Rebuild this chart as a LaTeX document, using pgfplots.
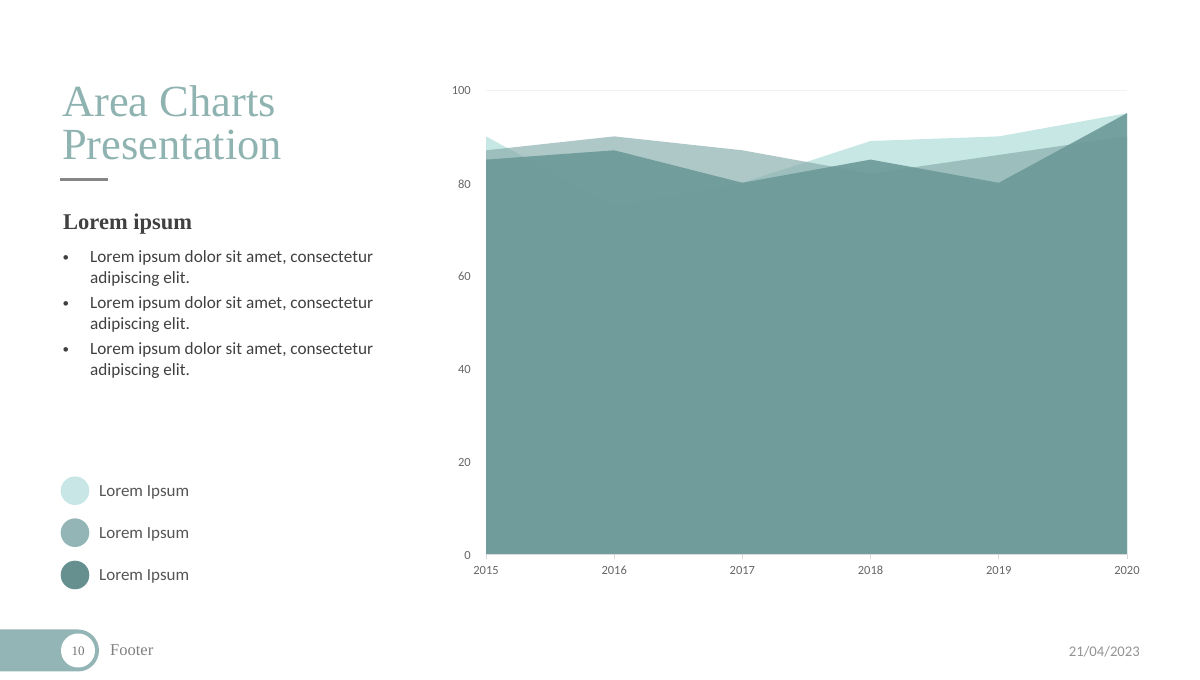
\documentclass[border=0pt]{standalone}
\usepackage{pgfplots}
\pgfplotsset{compat=1.18}
\usepackage{fontspec}
\setmainfont{Carlito}
\newfontfamily\serif{Liberation Serif}
\definecolor{lightc}{HTML}{C6E7E4}
\definecolor{medc}{HTML}{8BAFAF}
\definecolor{darkc}{HTML}{6E9A9A}
\definecolor{leg1}{HTML}{C8E6E6}
\definecolor{leg2}{HTML}{93B5B5}
\definecolor{leg3}{HTML}{65908F}
\definecolor{titlec}{HTML}{8FB3B0}
\definecolor{txt}{HTML}{404040}
\definecolor{legtxt}{HTML}{555555}
\definecolor{tickc}{HTML}{666666}
\definecolor{footc}{HTML}{93B5B5}
\begin{document}
\begin{tikzpicture}[x=1bp,y=1bp]
\path (0,0) rectangle (1200,680);
% Title
\node[anchor=base west, inner sep=0, text=titlec, font=\serif\fontsize{44.5bp}{50bp}\selectfont] at (62,563.3) {Area Charts};
\node[anchor=base west, inner sep=0, text=titlec, font=\serif\fontsize{44.5bp}{50bp}\selectfont] at (62,520) {Presentation};
\draw[color=gray!95, line width=2.7bp] (60,500.7) -- (108,500.7);
% Heading
\node[anchor=base west, inner sep=0, text=txt, font=\serif\bfseries\fontsize{22.5bp}{26bp}\selectfont] at (63,450) {Lorem ipsum};
% Bullets
\foreach \b in {417, 371, 325} {
  \node[anchor=base west, inner sep=0, text=txt, font=\fontsize{13bp}{20bp}\selectfont] at (62.5,\b+1) {•};
  \node[anchor=base west, inner sep=0, text=txt, font=\fontsize{17.2bp}{20bp}\selectfont] at (90,\b) {Lorem ipsum dolor sit amet, consectetur};
  \node[anchor=base west, inner sep=0, text=txt, font=\fontsize{17.2bp}{20bp}\selectfont] at (90,\b-21) {adipiscing elit.};
}
% Legend
\fill[leg1] (75,189.3) circle[radius=14.3];
\fill[leg2] (75,147.3) circle[radius=14.3];
\fill[leg3] (75,105) circle[radius=14.3];
\node[anchor=base west, inner sep=0, text=legtxt, font=\fontsize{17bp}{20bp}\selectfont] at (99,183.3) {Lorem Ipsum};
\node[anchor=base west, inner sep=0, text=legtxt, font=\fontsize{17bp}{20bp}\selectfont] at (99,141) {Lorem Ipsum};
\node[anchor=base west, inner sep=0, text=legtxt, font=\fontsize{17bp}{20bp}\selectfont] at (99,99) {Lorem Ipsum};
% Footer
\fill[footc] (0,8.5) -- (78,8.5) arc[start angle=-90, end angle=90, radius=21] -- (0,50.5) -- cycle;
\fill[white] (78,29.5) circle[radius=17];
\node[anchor=base, inner sep=0, text=gray!90!black, font=\serif\fontsize{13bp}{15bp}\selectfont] at (78,24.5) {10};
\node[anchor=base west, inner sep=0, text=gray, font=\serif\fontsize{16.5bp}{19bp}\selectfont] at (110,24.3) {Footer};
\node[anchor=base east, inner sep=0, text=gray!85, font=\fontsize{14.7bp}{17bp}\selectfont] at (1140,23.3) {21/04/2023};
% Chart
\begin{axis}[
  at={(486bp,126bp)}, anchor=origin,
  scale only axis, width=641bp, height=464bp,
  xmin=2015, xmax=2020, ymin=0, ymax=100,
  xtick={2015,...,2020}, ytick={0,20,...,100},
  axis x line*=bottom, axis y line*=left,
  y axis line style={draw=none},
  x axis line style={draw=black!15, line width=0.8bp},
  ymajorgrids, major grid style={draw=black!5, line width=0.8bp},
  ytick style={draw=none},
  xtick style={draw=black!15, line width=0.8bp},
  major tick length=5bp, tick align=outside,
  /pgf/number format/1000 sep={},
  /pgf/number format/assume math mode=true,
  tick label style={font=\fontsize{12.5bp}{14bp}\selectfont, text=tickc},
  yticklabel style={anchor=east, inner sep=0pt, xshift=-10bp, yshift=-1bp},
  xticklabel style={anchor=base, inner sep=0pt, yshift=-16bp},
]
\addplot[draw=none, fill=lightc] coordinates {(2015,90) (2016,75) (2017,80) (2018,89) (2019,90) (2020,95)} \closedcycle;
\addplot[draw=none, fill=medc, fill opacity=0.7] coordinates {(2015,87) (2016,90) (2017,87) (2018,82) (2019,86) (2020,90)} \closedcycle;
\addplot[draw=none, fill=darkc, fill opacity=0.92] coordinates {(2015,85) (2016,87) (2017,80) (2018,85) (2019,80) (2020,95)} \closedcycle;
\end{axis}
\end{tikzpicture}
\end{document}
